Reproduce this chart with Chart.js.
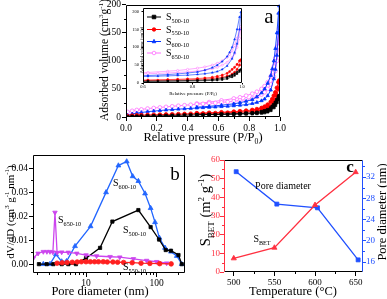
<!DOCTYPE html>
<html>
<head>
<meta charset="utf-8">
<script src="https://cdn.jsdelivr.net/npm/chart.js@4.4.0/dist/chart.umd.min.js"></script>
<style>
  html, body { margin: 0; padding: 0; background: #fff; }
  #fig { position: relative; width: 387px; height: 299px; overflow: hidden; background: #fff; }
  #fig canvas { position: absolute; }
</style>
</head>
<body>
<div id="fig">
  <canvas id="chartA" width="300" height="146" style="left:0;top:0"></canvas>
  <canvas id="chartInset" width="122" height="98" style="left:126px;top:2px"></canvas>
  <canvas id="chartB" width="200" height="149" style="left:0;top:150px"></canvas>
  <canvas id="chartC" width="191" height="149" style="left:196px;top:150px"></canvas>
</div>
<script>
// ---- panel a : N2 isotherms (relative pressure vs adsorbed volume) ----
const P_ADS = [0.01, 0.04, 0.07, 0.10, 0.14, 0.18, 0.22, 0.26, 0.30, 0.34, 0.38, 0.42, 0.46, 0.50, 0.54, 0.58,
               0.62, 0.66, 0.70, 0.74, 0.78, 0.82, 0.85, 0.88, 0.90, 0.92, 0.94, 0.96, 0.97, 0.98, 0.99, 0.995];
const P_DES = [0.99, 0.98, 0.97, 0.96, 0.95, 0.94, 0.92, 0.90, 0.88, 0.85, 0.82, 0.78, 0.74, 0.70, 0.62, 0.54, 0.46];

const V500_ADS = [0.5, 1, 1.2, 1.5, 1.8, 2, 2.2, 2.5, 2.8, 3, 3.3, 3.5, 3.8, 4, 4.2, 4.4,
                  4.6, 4.8, 5, 5.3, 5.6, 6, 6.5, 7.3, 8, 9.5, 12, 17, 21, 26, 32, 38];
const V500_DES = [36, 31, 26, 22, 19, 16, 13, 11, 9.5, 8.3, 7.5, 6.8, 6.2, 5.8, 5.2, 4.6, 4.1];
const V550_ADS = [1.5, 2.5, 3, 3.3, 3.6, 3.9, 4.2, 4.5, 4.8, 5.1, 5.4, 5.7, 6, 6.3, 6.6, 6.9,
                  7.2, 7.6, 8, 8.5, 9, 10, 11, 12.5, 14, 16, 19, 25, 30, 38, 50, 65];
const V550_DES = [62, 52, 44, 38, 32, 27, 22, 18.5, 16, 14, 12.5, 11.3, 10.3, 9.5, 8.4, 7.4, 6.7];
const V600_ADS = [3, 5.5, 7, 8, 9.5, 10.5, 11.5, 12.5, 13.2, 14, 14.7, 15.3, 16, 16.6, 17.2, 17.8,
                  18.5, 19.2, 20, 21, 22, 24, 26, 29, 32, 38, 48, 68, 85, 110, 150, 198];
const V600_DES = [185, 150, 122, 100, 86, 74, 60, 50, 43, 36, 31, 28, 25.5, 23.5, 21, 19, 17.5];
const V650_ADS = [9, 11, 12.5, 13.5, 15, 16, 17, 18, 19, 20, 21, 21.8, 22.6, 23.4, 24.2, 25,
                  26, 27, 28, 29.5, 31, 33.5, 36, 40, 44, 50, 58, 72, 82, 100, 125, 158];
const V650_DES = [150, 125, 105, 90, 80, 72, 62, 55, 50, 45, 41.5, 38, 35, 33, 29.5, 26.5, 24];

const A_X_TICKS = [0, 0.2, 0.4, 0.6, 0.8, 1.0];
const A_Y_TICKS = [0, 50, 100, 150, 200];
const INSET_X_TICKS = [0.6, 0.8, 1.0];
const INSET_Y_TICKS = [0, 50, 100, 150, 200];
const SAMPLE_NAMES = ['S_{500-10}', 'S_{550-10}', 'S_{600-10}', 'S_{650-10}'];

// ---- panel b : pore size distribution ----
const B500_D = [2.16, 2.78, 3.45, 4.53, 5.62, 7.2, 10, 15.8, 23.6, 55, 82, 108, 134, 159, 203, 226];
const B500_V = [0, 0, 0, 0, 0, 0, 0.0025, 0.0068, 0.0178, 0.0226, 0.0155, 0.0103, 0.0059, 0.0056, 0.0038, 0];
const B550_D = [3.9, 4.6, 5.4, 6.4, 7.5, 8.6, 10, 11.5, 13.2, 15, 17.5, 20, 24, 28, 34, 45, 60, 80, 110, 160];
const B550_V = [0.0004, 0.0006, 0.0007, 0.0008, 0.0009, 0.001, 0.001, 0.001, 0.001, 0.001, 0.001, 0.0009,
                0.0009, 0.0008, 0.0007, 0.0006, 0.0004, 0.0003, 0.0002, 0.0001];
const B600_D = [2.49, 3.09, 3.76, 4.53, 5.3, 6.99, 11.6, 19.2, 28.7, 37.6, 45.7, 55, 68.4, 82, 94.6, 109, 131, 159, 192, 226];
const B600_V = [0, 0, 0.0041, 0.0011, 0.0012, 0.0075, 0.0158, 0.030, 0.0412, 0.0429, 0.0367, 0.0347, 0.0295,
                0.0234, 0.0175, 0.011, 0.0068, 0.0052, 0.0034, 0];
const B650_D = [1.8, 2.1, 2.49, 2.8, 3.09, 3.4, 3.64, 3.9, 4.53, 5.6, 7.4, 10, 14.1, 21.9, 30, 46.8, 72, 100, 138];
const B650_V = [0.0025, 0.0045, 0.0052, 0.0052, 0.0052, 0.005, 0.0216, 0.0048, 0.005, 0.0049, 0.0045, 0.0038,
                0.0034, 0.0031, 0.0029, 0.0022, 0.0015, 0.001, 0.0004];
const B_X_TICKS = [10, 100];
const B_X_MINOR = [2, 3, 4, 5, 6, 7, 8, 9, 20, 30, 40, 50, 60, 70, 80, 90, 200];
const B_Y_TICKS = [0, 0.01, 0.02, 0.03, 0.04];

// ---- panel c : S_BET and pore diameter vs temperature ----
const C_TEMP = [500, 550, 600, 650];
const C_TEMP_PORE = [503, 553, 603, 653];
const C_SBET = [7.3, 13, 35.9, 53.5];
const C_PORE = [33.0, 26.9, 26.2, 16.4];
const C_X_TICKS = [500, 550, 600, 650];
const C_Y_TICKS = [0, 10, 20, 30, 40, 50, 60];
const C_Y2_TICKS = [16, 20, 24, 28, 32];

const FONT = "'Liberation Serif', 'Times New Roman', serif";
Chart.defaults.font.family = FONT;
Chart.defaults.color = '#000';

// "S_{BET}" / "cm^{3}" -> segments for sub- and superscripts
function parseRich(str) {
    const parts = [];
    const re = /([_^])\{([^}]*)\}/g;
    let last = 0, m;
    while ((m = re.exec(str))) {
        if (m.index > last) parts.push([str.slice(last, m.index), 0]);
        parts.push([m[2], m[1] === '^' ? 1 : -1]);
        last = re.lastIndex;
    }
    if (last < str.length) parts.push([str.slice(last), 0]);
    return parts;
}

function drawRich(ctx, t) {
    const parts = parseRich(t.t);
    const size = t.size, small = size * 0.62;
    const weight = t.bold ? 'bold ' : '';
    ctx.save();
    ctx.translate(t.x, t.y);
    if (t.rot) ctx.rotate(t.rot * Math.PI / 180);
    let w = 0;
    parts.forEach(p => {
        ctx.font = weight + (p[1] ? small : size) + 'px ' + FONT;
        w += ctx.measureText(p[0]).width;
    });
    let x = t.align === 'left' ? 0 : -w / 2;
    const base = size * 0.34;
    ctx.fillStyle = t.color || '#000';
    ctx.textBaseline = 'alphabetic';
    ctx.textAlign = 'left';
    parts.forEach(p => {
        ctx.font = weight + (p[1] ? small : size) + 'px ' + FONT;
        const dy = p[1] === 1 ? -size * 0.4 : (p[1] === -1 ? size * 0.25 : 0);
        ctx.fillText(p[0], x, base + dy);
        x += ctx.measureText(p[0]).width;
    });
    ctx.restore();
}

function drawMarker(ctx, style, x, y, r, stroke, fill) {
    ctx.beginPath();
    if (style === 'rect') {
        ctx.rect(x - r, y - r, 2 * r, 2 * r);
    } else if (style === 'triangle') {
        ctx.moveTo(x, y - r * 1.2);
        ctx.lineTo(x + r, y + r * 0.7);
        ctx.lineTo(x - r, y + r * 0.7);
        ctx.closePath();
    } else {
        ctx.arc(x, y, r, 0, Math.PI * 2);
    }
    ctx.fillStyle = fill;
    ctx.fill();
    ctx.strokeStyle = stroke;
    ctx.lineWidth = 0.8;
    ctx.stroke();
}

// frame, minor ticks, titles with sub/superscripts, inset legend
const decoPlugin = {
    id: 'deco',
    beforeDraw(chart, args, o) {
        if (!o.fill) return;
        const a = chart.chartArea, ctx = chart.ctx;
        ctx.save();
        ctx.fillStyle = o.fill;
        ctx.fillRect(a.left, a.top, a.right - a.left, a.bottom - a.top);
        ctx.restore();
    },
    afterDatasetsDraw(chart, args, o) {
        const ctx = chart.ctx, a = chart.chartArea;
        ctx.save();
        ctx.lineWidth = 1;
        (o.minor || []).forEach(m => {
            const s = chart.scales[m.scale];
            ctx.strokeStyle = m.color || '#000';
            m.values.forEach(v => {
                const p = Math.round(s.getPixelForValue(v)) + 0.5;
                ctx.beginPath();
                if (s.position === 'bottom') { ctx.moveTo(p, a.bottom); ctx.lineTo(p, a.bottom + m.len); }
                else if (s.position === 'left') { ctx.moveTo(a.left, p); ctx.lineTo(a.left - m.len, p); }
                else { ctx.moveTo(a.right, p); ctx.lineTo(a.right + m.len, p); }
                ctx.stroke();
            });
        });
        if (o.frame) {
            const f = o.frame;
            const L = Math.round(a.left) + 0.5, R = Math.round(a.right) - 0.5;
            const T = Math.round(a.top) + 0.5, B = Math.round(a.bottom) - 0.5;
            ctx.lineWidth = f.width || 1;
            [[L, T, R, T, f.top], [L, B, R, B, f.bottom], [L, T, L, B, f.left], [R, T, R, B, f.right]].forEach(l => {
                ctx.strokeStyle = l[4] || '#000';
                ctx.beginPath(); ctx.moveTo(l[0], l[1]); ctx.lineTo(l[2], l[3]); ctx.stroke();
            });
        }
        ctx.restore();
    },
    afterDraw(chart, args, o) {
        const ctx = chart.ctx;
        (o.legend || []).forEach(e => {
            ctx.save();
            ctx.strokeStyle = e.color; ctx.lineWidth = 1;
            ctx.beginPath(); ctx.moveTo(e.x0, e.y); ctx.lineTo(e.x1, e.y); ctx.stroke();
            drawMarker(ctx, e.style, (e.x0 + e.x1) / 2, e.y, 1.8, e.color, e.fill);
            ctx.restore();
            drawRich(ctx, { t: e.label, x: e.xt, y: e.y, size: e.size, align: 'left' });
        });
        (o.texts || []).forEach(t => drawRich(ctx, t));
    }
};
Chart.register(decoPlugin);

// axis with fixed thickness so the plot areas land where the picture has them
function axis(c) {
    return {
        type: c.type || 'linear',
        position: c.pos,
        min: c.min,
        max: c.max,
        afterBuildTicks: s => { s.ticks = c.ticks.map(v => ({ value: v })); },
        afterFit: s => {
            if (s.isHorizontal()) s.height = c.size; else s.width = c.size;
            s.paddingTop = s.paddingBottom = s.paddingLeft = s.paddingRight = 0;
        },
        grid: { drawOnChartArea: false, drawTicks: true, tickLength: c.tick || 4, color: c.color || '#000', lineWidth: 1 },
        border: { display: false },
        ticks: {
            font: { size: c.font || 9.5 },
            color: c.color || '#000',
            padding: c.pad || 0,
            maxRotation: 0,
            autoSkip: false,
            callback: c.fmt || (v => String(v))
        }
    };
}

function series(xs, ys, color, style, r, fill, extra) {
    return Object.assign({
        data: xs.map((x, i) => ({ x: x, y: ys[i] })),
        borderColor: color,
        backgroundColor: color,
        pointBackgroundColor: fill || color,
        pointBorderColor: color,
        pointStyle: style,
        pointRadius: r,
        pointBorderWidth: 0.8,
        borderWidth: 0.9,
        tension: 0
    }, extra || {});
}

function isothermSets(r, extra) {
    const col = ['#000000', '#ff0000', '#0033ff', '#ff70ff'];
    const sets = [[V500_ADS, V500_DES, 'rect', null], [V550_ADS, V550_DES, 'circle', null],
                  [V600_ADS, V600_DES, 'triangle', null], [V650_ADS, V650_DES, 'circle', '#ffffff']];
    const out = [];
    sets.forEach((s, i) => {
        out.push(series(P_ADS, s[0], col[i], s[2], r, s[3], extra));
        out.push(series(P_DES, s[1], col[i], s[2], r, s[3], extra));
    });
    return out;
}

const base = {
    responsive: false,
    animation: false,
    events: [],
    plugins: { legend: { display: false }, tooltip: { enabled: false } }
};

document.addEventListener('DOMContentLoaded', function () {
    // panel a
    new Chart(document.getElementById('chartA'), {
        type: 'line',
        data: { datasets: isothermSets(1.9) },
        options: Object.assign({}, base, {
            layout: { padding: { left: 0, top: 4, right: 20, bottom: 0 } },
            scales: {
                x: axis({ pos: 'bottom', min: 0, max: 1, ticks: A_X_TICKS, size: 29, pad: 2, fmt: v => v.toFixed(1) }),
                y: axis({ pos: 'left', min: 0, max: 200, ticks: A_Y_TICKS, size: 126, pad: 1 })
            },
            plugins: Object.assign({}, base.plugins, {
                deco: {
                    frame: {},
                    minor: [{ scale: 'x', values: [0.1, 0.3, 0.5, 0.7, 0.9], len: 2 },
                            { scale: 'y', values: [25, 75, 125, 175], len: 2 }],
                    texts: [
                        { t: 'Relative pressure (P/P_{0})', x: 203, y: 137, size: 12.5 },
                        { t: 'Adsorbed volume (cm^{3}g^{-1})', x: 104, y: 60, size: 11.5, rot: -90 },
                        { t: 'a', x: 269, y: 16, size: 21 }
                    ]
                }
            })
        })
    });

    // inset of panel a
    const legendCols = ['#000000', '#ff0000', '#0033ff', '#ff70ff'];
    const legendStyles = ['rect', 'circle', 'triangle', 'circle'];
    const legendRows = [15, 27.5, 39.5, 51];
    new Chart(document.getElementById('chartInset'), {
        type: 'line',
        data: { datasets: isothermSets(1.1, { borderWidth: 0.6, pointBorderWidth: 0.5, clip: 0 }) },
        options: Object.assign({}, base, {
            layout: { padding: { left: 0, top: 6, right: 6, bottom: 0 } },
            scales: {
                x: axis({ pos: 'bottom', min: 0.6, max: 1, ticks: INSET_X_TICKS, size: 17, tick: 1.5, font: 4.5, fmt: v => v.toFixed(1) }),
                y: axis({ pos: 'left', min: 0, max: 210, ticks: INSET_Y_TICKS, size: 17, tick: 1.5, font: 4.5, pad: 2.5 })
            },
            plugins: Object.assign({}, base.plugins, {
                deco: {
                    fill: '#ffffff',
                    frame: {},
                    legend: SAMPLE_NAMES.map((n, i) => ({
                        label: n, color: legendCols[i], style: legendStyles[i],
                        fill: i === 3 ? '#ffffff' : legendCols[i],
                        x0: 21, x1: 35, xt: 40, y: legendRows[i], size: 10
                    })),
                    texts: [
                        { t: 'Relative pressure (P/P_{0})', x: 67, y: 91, size: 5 },
                        { t: 'Adsorbed volume (cm^{3}/g)', x: 15.3, y: 48, size: 4.5, rot: -90 }
                    ]
                }
            })
        })
    });

    // panel b
    new Chart(document.getElementById('chartB'), {
        type: 'line',
        data: {
            datasets: [
                series(B550_D, B550_V, '#ff2020', 'circle', 2.3, null, { borderWidth: 1.3 }),
                series(B650_D, B650_V, '#cc44ee', 'triangle', 2.6, null, { borderWidth: 1.3, pointRotation: 180 }),
                series(B500_D, B500_V, '#000000', 'rect', 2.3, null, { borderWidth: 1.3 }),
                series(B600_D, B600_V, '#2266ff', 'triangle', 2.8, null, { borderWidth: 1.3 })
            ]
        },
        options: Object.assign({}, base, {
            layout: { padding: { left: 0, top: 3, right: 15, bottom: 0 } },
            scales: {
                x: axis({ type: 'logarithmic', pos: 'bottom', min: 1.78, max: 251, ticks: B_X_TICKS, size: 26, pad: 1 }),
                y: axis({ pos: 'left', min: -0.0037, max: 0.0457, ticks: B_Y_TICKS, size: 33, pad: 1, fmt: v => v.toFixed(2) })
            },
            plugins: Object.assign({}, base.plugins, {
                deco: {
                    frame: {},
                    minor: [{ scale: 'x', values: B_X_MINOR, len: 2 },
                            { scale: 'y', values: [0.005, 0.015, 0.025, 0.035], len: 2 }],
                    texts: [
                        { t: 'Pore diameter (nm)', x: 100, y: 141, size: 12.5 },
                        { t: 'dV/dD (cm^{3} g^{-1} nm^{-1})', x: 10, y: 62, size: 11, rot: -90 },
                        { t: 'b', x: 175, y: 24, size: 19 },
                        { t: 'S_{600-10}', x: 113, y: 33, size: 10, align: 'left' },
                        { t: 'S_{500-10}', x: 123, y: 80, size: 10, align: 'left' },
                        { t: 'S_{650-10}', x: 58, y: 70, size: 10, align: 'left' },
                        { t: 'S_{550-10}', x: 123, y: 117, size: 10, align: 'left' }
                    ]
                }
            })
        })
    });

    // panel c
    const red = '#ff3040', blue = '#2050ff';
    new Chart(document.getElementById('chartC'), {
        type: 'line',
        data: {
            datasets: [
                series(C_TEMP, C_SBET, red, 'triangle', 3, null, { borderWidth: 1.3, yAxisID: 'y' }),
                series(C_TEMP_PORE, C_PORE, blue, 'rect', 2.8, null, { borderWidth: 1.3, yAxisID: 'y2' })
            ]
        },
        options: Object.assign({}, base, {
            layout: { padding: { left: 0, top: 10, right: 0, bottom: 0 } },
            scales: {
                x: axis({ pos: 'bottom', min: 488, max: 659, ticks: C_X_TICKS, size: 27, pad: 1, font: 9 }),
                y: axis({ pos: 'left', min: 0, max: 60, ticks: C_Y_TICKS, size: 28, pad: 0, font: 9, color: red }),
                y2: axis({ pos: 'right', min: 14.12, max: 35.2, ticks: C_Y2_TICKS, size: 24, tick: 3, pad: 0, font: 9, color: blue })
            },
            plugins: Object.assign({}, base.plugins, {
                deco: {
                    frame: { left: red, right: blue },
                    minor: [{ scale: 'x', values: [525, 575, 625], len: 2 },
                            { scale: 'y', values: [5, 15, 25, 35, 45, 55], len: 2, color: red },
                            { scale: 'y2', values: [18, 22, 26, 30, 34], len: 2, color: blue }],
                    texts: [
                        { t: 'Temperature (\u00B0C)', x: 97, y: 141, size: 12.5 },
                        { t: 'S_{BET} (m^{2} g^{-1})', x: 9, y: 60, size: 14.5, rot: -90 },
                        { t: 'Pore diameter (nm)', x: 186, y: 62, size: 12.5, rot: -90 },
                        { t: 'Pore diameter', x: 87, y: 36, size: 10 },
                        { t: 'S_{BET}', x: 66, y: 89, size: 10 },
                        { t: 'c', x: 154, y: 16, size: 17, bold: true }
                    ]
                }
            })
        })
    });
});
</script>
</body>
</html>
